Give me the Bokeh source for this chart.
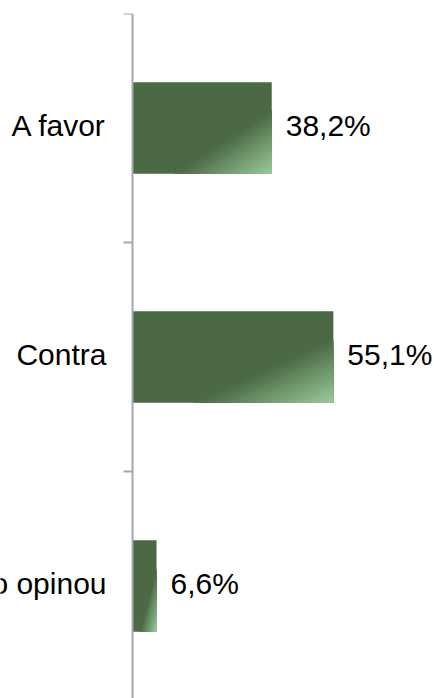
from bokeh.plotting import figure
from bokeh.models import Range1d, FixedTicker, LabelSet, ColumnDataSource
from bokeh.core.properties import value
from bokeh.embed import file_html
from bokeh.resources import INLINE

categories = ["A favor", "Contra", "Não opinou"]
values = [38.2, 55.1, 6.6]
value_labels = ["38,2%", "55,1%", "6,6%"]
boundaries = [0, 1, 2, 3]

DARK = (74, 105, 68)
LIGHT = (155, 203, 155)
FONT = "Liberation Sans"

centers = [i + 0.5 for i in range(len(categories))]
bar_h = 0.40
PX = 3.645  # pixels per percent

p = figure(width=434, height=698, output_backend="svg", toolbar_location=None,
           x_range=Range1d(-132 / PX, (434 - 132) / PX),
           y_range=Range1d(685 / 229, 0), y_axis_location="right",
           min_border_left=0, min_border_right=0, min_border_top=13,
           min_border_bottom=0)
p.outline_line_color = None
p.grid.visible = False
p.xaxis.visible = False
p.background_fill_color = "white"
p.border_fill_color = "white"

ax = p.yaxis[0]
ax.fixed_location = 0
ax.ticker = FixedTicker(ticks=boundaries)
ax.major_tick_out = 0
ax.major_tick_in = 9
ax.minor_tick_line_color = None
ax.major_label_overrides = {b: "" for b in boundaries}
ax.major_label_text_font_size = "0px"
ax.major_label_standoff = 0
ax.axis_line_color = "#A2A7B0"
ax.axis_line_width = 2
ax.major_tick_line_color = "#A2A7B0"
ax.major_tick_line_width = 2

# bars
p.hbar(y=centers, left=0, right=values, height=bar_h,
       fill_color="#%02x%02x%02x" % DARK, line_color=None)

# simulated diagonal gradient toward bottom-right corner
N = 24
xs, ys, cols = [], [], []
for c, v in zip(centers, values):
    bottom = c + bar_h / 2
    for k in range(N):
        t = k / N
        tc = (k + 0.5) / N
        u0 = 0.3 + 0.7 * t
        vv = 0.7 * (1 - t)
        xs.append([v * u0, v, v])
        ys.append([bottom, bottom, bottom - vv * bar_h])
        col = tuple(int(round(DARK[j] + (LIGHT[j] - DARK[j]) * tc)) for j in range(3))
        cols.append("#%02x%02x%02x" % col)
p.patches(xs=xs, ys=ys, fill_color=cols, line_color=None)

src = ColumnDataSource(dict(y=centers, v=values, vl=value_labels,
                            cat=categories, zero=[0] * len(values)))
p.add_layout(LabelSet(x="v", y="y", text="vl", source=src, x_offset=14,
                      y_offset=3,
                      text_align="left", text_baseline="middle",
                      text_font=value(FONT), text_font_size="30px",
                      text_color="black"))
p.add_layout(LabelSet(x="zero", y="y", text="cat", source=src, x_offset=-26,
                      y_offset=3,
                      text_align="right", text_baseline="middle",
                      text_font=value(FONT), text_font_size="30px",
                      text_color="black"))

open("out.html", "w").write(file_html(p, INLINE))
